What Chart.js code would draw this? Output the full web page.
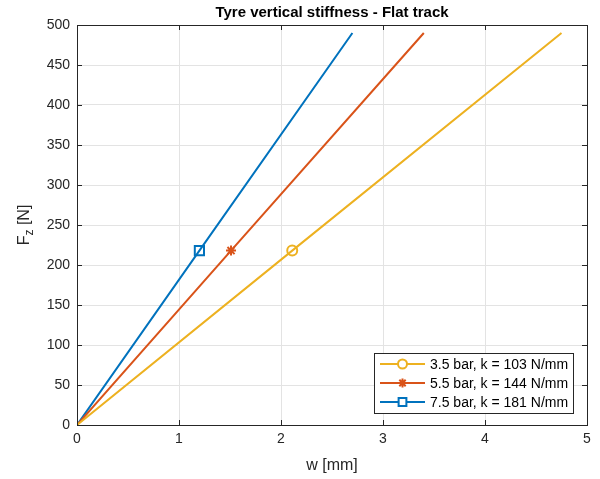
<!DOCTYPE html>
<html>
<head>
<meta charset="utf-8">
<script src="https://cdn.jsdelivr.net/npm/chart.js@4"></script>
<style>
  html, body { margin: 0; padding: 0; background: #fff; }
  #wrap { width: 600px; height: 479px; }
</style>
</head>
<body>
<div id="wrap"><canvas id="chart"></canvas></div>
<script>
// values: start, marker point, end of each line
const labels = ['3.5 bar, k = 103 N/mm', '5.5 bar, k = 144 N/mm', '7.5 bar, k = 181 N/mm'];
const deflection35 = [0, 2.11, 4.75];
const deflection55 = [0, 1.51, 3.40];
const deflection75 = [0, 1.20, 2.70];
const forceValues = [0, 218, 490];
const xTicks = [0, 1, 2, 3, 4, 5];
const yTicks = [0, 50, 100, 150, 200, 250, 300, 350, 400, 450, 500];

const colors = ['#EDB120', '#D95319', '#0072BD'];
const markers = ['circle', 'star', 'rect'];
const markerSize = [5, 5, 6.5];
const FONT = '"Liberation Sans", Arial, sans-serif';

function toPoints(xs) {
    return xs.map((x, i) => ({ x: x, y: forceValues[i] }));
}

const series = [deflection35, deflection55, deflection75];

const datasets = series.map((xs, i) => ({
    label: labels[i],
    data: toPoints(xs),
    borderColor: colors[i],
    backgroundColor: i === 1 ? colors[i] : 'rgba(0,0,0,0)',
    borderWidth: 2,
    pointStyle: markers[i],
    pointRadius: [0, markerSize[i], 0],
    pointBorderWidth: 2,
    pointBackgroundColor: i === 1 ? colors[i] : 'rgba(0,0,0,0)',
    pointBorderColor: colors[i],
    tension: 0
}));

// box, inner ticks, title, axis labels and legend, MATLAB style
const matlabDecor = {
    id: 'matlabDecor',
    afterDraw(chart) {
        const ctx = chart.ctx;
        const a = chart.chartArea;
        const xs = chart.scales.x, ys = chart.scales.y;
        ctx.save();
        ctx.strokeStyle = '#262626';
        ctx.lineWidth = 1;
        ctx.strokeRect(a.left + 0.5, a.top + 0.5, a.right - a.left, a.bottom - a.top);
        ctx.beginPath();
        xTicks.forEach(v => {
            const px = Math.round(xs.getPixelForValue(v)) + 0.5;
            ctx.moveTo(px, a.bottom); ctx.lineTo(px, a.bottom - 5);
            ctx.moveTo(px, a.top); ctx.lineTo(px, a.top + 5);
        });
        yTicks.forEach(v => {
            const py = Math.round(ys.getPixelForValue(v)) + 0.5;
            ctx.moveTo(a.left, py); ctx.lineTo(a.left + 5, py);
            ctx.moveTo(a.right, py); ctx.lineTo(a.right - 5, py);
        });
        ctx.stroke();

        // title
        ctx.fillStyle = '#000';
        ctx.font = 'bold 15px ' + FONT;
        ctx.textAlign = 'center';
        ctx.textBaseline = 'middle';
        ctx.fillText('Tyre vertical stiffness - Flat track', (a.left + a.right) / 2, 13);

        // x label
        ctx.fillStyle = '#262626';
        ctx.font = '16px ' + FONT;
        ctx.fillText('w [mm]', (a.left + a.right) / 2, 466);

        // y label with subscript
        ctx.translate(25, (a.top + a.bottom) / 2);
        ctx.rotate(-Math.PI / 2);
        ctx.textAlign = 'left';
        const f = 'F', sub = 'z', rest = ' [N]';
        ctx.font = '16px ' + FONT;
        const wF = ctx.measureText(f).width;
        const wRest = ctx.measureText(rest).width;
        ctx.font = '12px ' + FONT;
        const wSub = ctx.measureText(sub).width;
        let x0 = -(wF + wSub + wRest) / 2;
        ctx.font = '16px ' + FONT;
        ctx.fillText(f, x0, 0);
        ctx.font = '12px ' + FONT;
        ctx.fillText(sub, x0 + wF, 5);
        ctx.font = '16px ' + FONT;
        ctx.fillText(rest, x0 + wF + wSub, 0);
        ctx.restore();

        // legend box, lower right inside the axes
        ctx.save();
        const bx = 374, by = 353, bw = 199, bh = 60;
        ctx.fillStyle = '#fff';
        ctx.fillRect(bx, by, bw, bh);
        ctx.strokeStyle = '#262626';
        ctx.lineWidth = 1;
        ctx.strokeRect(bx + 0.5, by + 0.5, bw, bh);
        ctx.font = '14px ' + FONT;
        ctx.textAlign = 'left';
        ctx.textBaseline = 'middle';
        chart.data.datasets.forEach((ds, i) => {
            const cy = by + 11 + i * 19;
            ctx.strokeStyle = ds.borderColor;
            ctx.lineWidth = 2;
            ctx.beginPath();
            ctx.moveTo(bx + 6, cy); ctx.lineTo(bx + 51, cy);
            ctx.stroke();
            ctx.fillStyle = i === 1 ? ds.borderColor : '#fff';
            Chart.helpers.drawPoint(ctx, {
                pointStyle: ds.pointStyle,
                radius: i === 2 ? 5.5 : 4.5,
                borderWidth: 2,
                rotation: 0
            }, bx + 28.5, cy);
            ctx.fillStyle = '#000';
            ctx.fillText(ds.label, bx + 56, cy + 1);
        });
        ctx.restore();
    }
};

new Chart(document.getElementById('chart'), {
    type: 'line',
    data: { datasets: datasets },
    options: {
        responsive: true,
        maintainAspectRatio: false,
        animation: false,
        layout: { padding: { left: 0, right: 13, top: 25, bottom: 0 } },
        plugins: {
            legend: { display: false },
            title: { display: false },
            tooltip: { enabled: false }
        },
        scales: {
            x: {
                type: 'linear',
                min: 0, max: 5,
                afterBuildTicks: s => { s.ticks = xTicks.map(v => ({ value: v })); },
                afterFit: s => { s.height = 54; },
                grid: { color: '#e3e3e3', drawTicks: false },
                border: { display: false },
                ticks: { color: '#262626', padding: 6, font: { family: FONT, size: 14 } }
            },
            y: {
                min: 0, max: 500,
                afterBuildTicks: s => { s.ticks = yTicks.map(v => ({ value: v })); },
                afterFit: s => { s.width = 77; },
                grid: { color: '#e3e3e3', drawTicks: false },
                border: { display: false },
                ticks: { color: '#262626', padding: 7, font: { family: FONT, size: 14 } }
            }
        }
    },
    plugins: [matlabDecor]
});
</script>
</body>
</html>
